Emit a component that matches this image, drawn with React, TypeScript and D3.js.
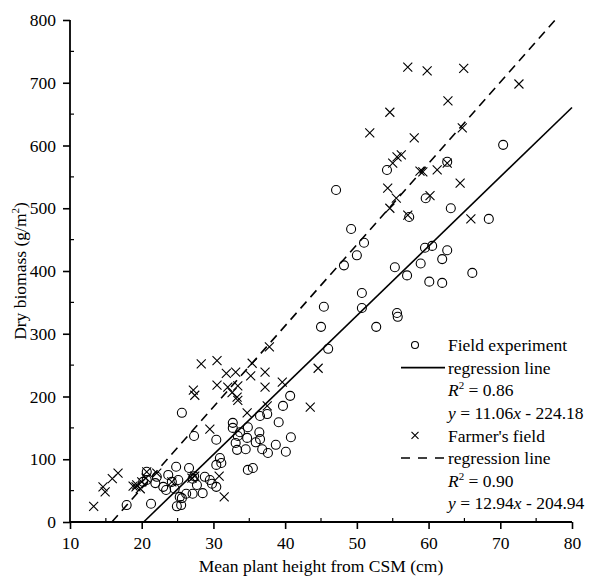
import React, { useEffect, useRef } from "react";
import * as d3 from "d3";

// Field experiment (circles): mean plant height (cm), dry biomass (g/m2)
const fieldHeight = [
  70.4, 63.1, 68.4, 62.6, 60.5, 62.6, 61.9, 66.1, 60.1, 61.9,
  54.2, 47.1, 59.6, 57.3, 49.2, 51.0, 50.0, 48.2, 59.5, 55.3,
  58.9, 57.0, 50.7, 50.7, 45.4, 55.6, 55.7, 45.0, 52.7, 46.0,
  25.6, 40.7, 39.7, 36.5, 37.5, 39.1, 40.8, 40.1, 38.7, 37.6,
  36.8, 36.4, 36.5, 35.9, 34.8, 34.7, 34.5, 33.3, 33.1, 33.4,
  33.7, 32.7, 32.7, 34.8, 35.5, 30.4, 30.9, 30.4, 31.1, 27.3,
  26.6, 27.3, 28.8, 29.5, 29.8, 30.4, 27.7, 27.1, 28.5, 27.1,
  26.2, 25.6, 25.5, 17.9, 21.3, 24.8, 20.7, 20.7, 21.9, 23.7,
  23.0, 23.4, 24.6, 24.2, 25.1, 25.3, 24.9, 20.2, 22.1,
];
const fieldBiomass = [
  601, 500, 483, 574, 440, 433, 419, 397, 383, 381,
  561, 529, 516, 486, 467, 445, 425, 409, 437, 406,
  412, 393, 365, 341, 343, 333, 327, 311, 311, 276,
  174, 201, 185, 169, 172, 159, 135, 112, 123, 110,
  116, 143, 132, 127, 151, 134, 116, 115, 126, 137,
  143, 158, 150, 83, 86, 131, 102, 91, 94, 137,
  86, 73, 72, 67, 61, 56, 59, 69, 46, 45,
  45, 38, 27, 27, 29, 88, 80, 67, 62, 75,
  56, 51, 53, 64, 67, 40, 25, 64, 72,
];

// Farmer's field (crosses)
const farmHeight = [
  57.1, 59.8, 64.9, 72.6, 54.6, 62.7, 64.7, 51.8, 58.0, 55.6,
  56.2, 55.0, 58.8, 59.2, 61.2, 62.6, 54.3, 55.5, 54.6, 57.1,
  60.2, 64.4, 65.9, 37.8, 44.6, 43.5, 28.3, 30.5, 31.8, 33.1,
  35.4, 35.2, 37.2, 30.5, 27.2, 27.4, 32.0, 33.4, 32.6, 33.3,
  33.4, 37.2, 39.6, 34.7, 37.5, 29.5, 30.8, 31.5, 13.3, 14.6,
  14.9, 15.9, 16.7, 18.8, 19.2, 19.3, 20.0, 19.8, 20.7, 22.1,
  24.2, 27.4, 27.0, 20.6,
];
const farmBiomass = [
  725, 719, 723, 698, 653, 671, 628, 620, 612, 582,
  585, 572, 559, 558, 561, 572, 532, 516, 500, 489,
  520, 540, 483, 279, 245, 183, 252, 257, 237, 239,
  253, 233, 239, 218, 210, 202, 215, 217, 206, 199,
  194, 215, 223, 174, 185, 148, 73, 40, 25, 56,
  48, 69, 78, 57, 56, 59, 64, 53, 80, 78,
  64, 73, 70, 70,
];

const xTicks = [10, 20, 30, 40, 50, 60, 70, 80];
const yTicks = [0, 100, 200, 300, 400, 500, 600, 700, 800];

const fieldFit = { slope: 11.06, intercept: -224.18 };
const farmFit = { slope: 12.94, intercept: -204.94 };

const FONT = "'Liberation Serif', 'Times New Roman', serif";

export default function App() {
  const ref = useRef<SVGSVGElement>(null);
  const width = 592;
  const height = 580;

  useEffect(() => {
    const svg = d3.select(ref.current);
    svg.selectAll("*").remove();

    const x = d3.scaleLinear().domain([10, 80]).range([70, 572]);
    const y = d3.scaleLinear().domain([0, 800]).range([522, 20]);

    const fs = "17.5px";

    // regression lines
    const fitLine = (fit: { slope: number; intercept: number }) => {
      const x0 = Math.max(10, -fit.intercept / fit.slope);
      const x1 = Math.min(80, (800 - fit.intercept) / fit.slope);
      return [
        [x0, fit.slope * x0 + fit.intercept],
        [x1, fit.slope * x1 + fit.intercept],
      ];
    };
    const line = d3
      .line<number[]>()
      .x((d) => x(d[0]))
      .y((d) => y(d[1]));

    svg
      .append("path")
      .attr("d", line(fitLine(fieldFit)))
      .attr("fill", "none")
      .attr("stroke", "#000")
      .attr("stroke-width", 1.6);

    svg
      .append("path")
      .attr("d", line(fitLine(farmFit)))
      .attr("fill", "none")
      .attr("stroke", "#000")
      .attr("stroke-width", 1.6)
      .attr("stroke-dasharray", "9,6");

    // points
    svg
      .append("g")
      .selectAll("circle")
      .data(fieldHeight.map((h, i) => [h, fieldBiomass[i]]))
      .join("circle")
      .attr("cx", (d) => x(d[0]))
      .attr("cy", (d) => y(d[1]))
      .attr("r", 4.5)
      .attr("fill", "none")
      .attr("stroke", "#000")
      .attr("stroke-width", 1.1);

    const cross = (s: number) => `M${-s},${-s}L${s},${s}M${-s},${s}L${s},${-s}`;
    svg
      .append("g")
      .selectAll("path")
      .data(farmHeight.map((h, i) => [h, farmBiomass[i]]))
      .join("path")
      .attr("transform", (d) => `translate(${x(d[0])},${y(d[1])})`)
      .attr("d", cross(4.5))
      .attr("stroke", "#000")
      .attr("stroke-width", 1.1);

    // axes
    const xAxis = svg
      .append("g")
      .attr("transform", `translate(0,522)`)
      .call(d3.axisBottom(x).tickValues(xTicks).tickSize(7).tickPadding(8).tickFormat(d3.format("d")));
    const yAxis = svg
      .append("g")
      .attr("transform", `translate(70,0)`)
      .call(d3.axisLeft(y).tickValues(yTicks).tickSize(7).tickPadding(7).tickFormat(d3.format("d")));

    [xAxis, yAxis].forEach((a) => {
      a.select(".domain").attr("stroke", "#000").attr("stroke-width", 1.8);
      a.selectAll(".tick line").attr("stroke", "#000").attr("stroke-width", 1.6);
      a.selectAll("text")
        .attr("fill", "#000")
        .style("font-family", FONT)
        .style("font-size", fs);
    });
    xAxis.select(".domain").attr("d", "M70,0H572");
    yAxis.select(".domain").attr("d", "M0,20V522");

    // minor ticks (inside)
    svg
      .append("g")
      .selectAll("line")
      .data(d3.range(15, 80, 10))
      .join("line")
      .attr("x1", (d) => x(d))
      .attr("x2", (d) => x(d))
      .attr("y1", 522)
      .attr("y2", 518)
      .attr("stroke", "#000")
      .attr("stroke-width", 1.2);
    svg
      .append("g")
      .selectAll("line")
      .data(d3.range(50, 800, 100))
      .join("line")
      .attr("x1", 70)
      .attr("x2", 74)
      .attr("y1", (d) => y(d))
      .attr("y2", (d) => y(d))
      .attr("stroke", "#000")
      .attr("stroke-width", 1.2);

    // axis titles
    svg
      .append("text")
      .attr("x", x(45))
      .attr("y", 572)
      .attr("text-anchor", "middle")
      .style("font-family", FONT)
      .style("font-size", fs)
      .text("Mean plant height from CSM (cm)");

    const yl = svg
      .append("text")
      .attr("transform", `translate(26,${y(400)}) rotate(-90)`)
      .attr("text-anchor", "middle")
      .style("font-family", FONT)
      .style("font-size", fs);
    yl.append("tspan").text("Dry biomass (g/m");
    yl.append("tspan").attr("font-size", "11px").attr("dy", "-7").text("2");
    yl.append("tspan").attr("dy", "7").text(")");

    // legend
    const lg = svg.append("g").style("font-family", FONT).style("font-size", fs);
    const rowY = (i: number) => 345 + i * 22.6;
    const tx = 448;
    const mx = 415;
    const addText = (i: number, parts: [string, boolean, boolean?][]) => {
      const t = lg.append("text").attr("x", tx).attr("y", rowY(i)).attr("dy", "0.35em");
      parts.forEach(([s, it, sup]) => {
        const ts = t.append("tspan").text(s);
        if (it) ts.attr("font-style", "italic");
        if (sup) ts.attr("font-size", "11px").attr("dy", "-7");
      });
      return t;
    };

    lg.append("circle")
      .attr("cx", mx)
      .attr("cy", rowY(0))
      .attr("r", 3.5)
      .attr("fill", "none")
      .attr("stroke", "#000")
      .attr("stroke-width", 1.1);
    addText(0, [["Field experiment", false]]);
    lg.append("line")
      .attr("x1", 401)
      .attr("x2", 445)
      .attr("y1", rowY(1))
      .attr("y2", rowY(1))
      .attr("stroke", "#000")
      .attr("stroke-width", 1.6);
    addText(1, [["regression line", false]]);
    const r1 = addText(2, [["R", true], ["2", false, true]]);
    r1.append("tspan").attr("dy", "7").text(" = 0.86");
    addText(3, [["y", true], [" = 11.06", false], ["x", true], [" - 224.18", false]]);

    lg.append("path")
      .attr("transform", `translate(${mx},${rowY(4)})`)
      .attr("d", cross(3.5))
      .attr("stroke", "#000")
      .attr("stroke-width", 1.1);
    addText(4, [["Farmer's field", false]]);
    lg.append("line")
      .attr("x1", 401)
      .attr("x2", 445)
      .attr("y1", rowY(5))
      .attr("y2", rowY(5))
      .attr("stroke", "#000")
      .attr("stroke-width", 1.6)
      .attr("stroke-dasharray", "9,8");
    addText(5, [["regression line", false]]);
    const r2 = addText(6, [["R", true], ["2", false, true]]);
    r2.append("tspan").attr("dy", "7").text(" = 0.90");
    addText(7, [["y", true], [" = 12.94", false], ["x", true], [" - 204.94", false]]);
  }, []);

  return (
    <svg
      ref={ref}
      width={width}
      height={height}
      style={{ position: "absolute", left: 0, top: 0, background: "#fff" }}
    />
  );
}
